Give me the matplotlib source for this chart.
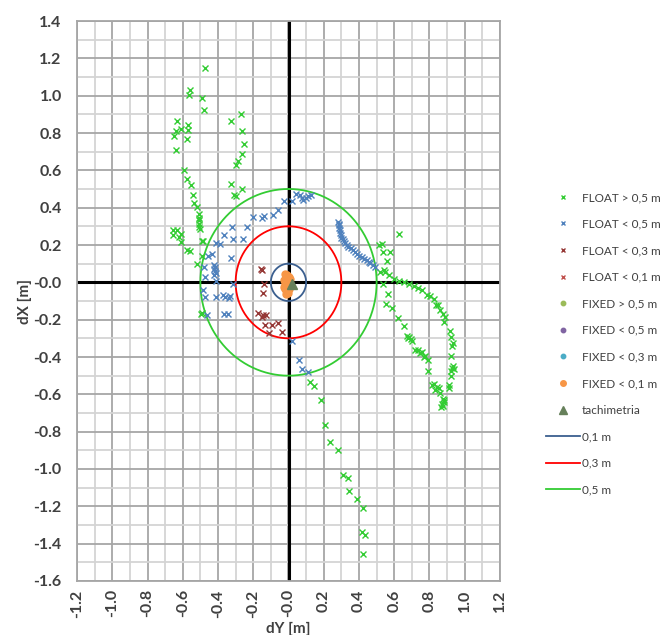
import numpy as np
import matplotlib
matplotlib.use("Agg")
import matplotlib.pyplot as plt

plt.rcParams['font.family'] = ['Lato', 'DejaVu Sans']

# FLOAT > 0,5 m  (dY, dX)
float05p_y = [-0.472, -0.559, -0.565, -0.493, -0.478, -0.271, -0.326, -0.631, -0.568, -0.640,
              -0.612, -0.571, -0.264, -0.648, -0.578, -0.251, -0.639, -0.264, -0.287, -0.296,
              -0.593, -0.574, -0.553, -0.326, -0.264, -0.309, -0.296, -0.540, -0.535, -0.521,
              -0.506, -0.507, -0.508, -0.505, -0.507, -0.500, -0.654, -0.635, -0.654, -0.611,
              -0.620, -0.611, -0.489, -0.484, -0.578, -0.559, -0.489, -0.521, -0.489, -0.496,
              0.122, 0.143, 0.183, 0.209, 0.235, 0.283, 0.307, 0.338, 0.344, 0.391,
              0.425, 0.417, 0.432, 0.425,
              0.629, 0.515, 0.528, 0.534, 0.576, 0.557, 0.541, 0.519, 0.550, 0.570,
              0.600, 0.627, 0.655, 0.683, 0.712, 0.735, 0.760, 0.788, 0.800, 0.825,
              0.850, 0.836, 0.858, 0.877, 0.886, 0.880, 0.914, 0.923, 0.933, 0.926,
              0.923, 0.935, 0.928, 0.922, 0.940, 0.923, 0.910, 0.912, 0.830, 0.856,
              0.860, 0.875, 0.882, 0.870, 0.878, 0.868, 0.884,
              0.756, 0.775, 0.794, 0.534, 0.562, 0.552, 0.590, 0.620, 0.657, 0.672,
              0.685, 0.695, 0.700, 0.678, 0.720, 0.735, 0.748, 0.768, 0.790, 0.812,
              0.826, 0.840]
float05p_x = [1.148, 1.029, 1.003, 0.989, 0.921, 0.902, 0.862, 0.864, 0.843, 0.809,
              0.823, 0.814, 0.809, 0.782, 0.768, 0.743, 0.711, 0.689, 0.652, 0.629,
              0.604, 0.552, 0.520, 0.527, 0.500, 0.470, 0.462, 0.470, 0.425, 0.403,
              0.366, 0.345, 0.333, 0.315, 0.297, 0.288, 0.279, 0.282, 0.255, 0.261,
              0.243, 0.216, 0.223, 0.222, 0.171, 0.168, 0.139, 0.100, -0.162, -0.167,
              -0.536, -0.555, -0.632, -0.766, -0.855, -0.898, -1.030, -1.050, -1.120, -1.163,
              -1.209, -1.336, -1.355, -1.457,
              0.261, 0.198, 0.205, 0.163, 0.163, 0.114, 0.064, 0.055, 0.055, 0.037,
              0.020, 0.005, 0.002, -0.007, -0.021, -0.030, -0.040, -0.066, -0.075, -0.090,
              -0.120, -0.123, -0.150, -0.168, -0.187, -0.214, -0.262, -0.293, -0.325, -0.343,
              -0.397, -0.446, -0.460, -0.475, -0.465, -0.500, -0.550, -0.565, -0.576, -0.566,
              -0.595, -0.625, -0.640, -0.650, -0.660, -0.670, -0.632,
              -0.374, -0.397, -0.418, -0.007, -0.061, -0.114, -0.136, -0.190, -0.234, -0.288,
              -0.295, -0.305, -0.315, -0.300, -0.360, -0.362, -0.380, -0.400, -0.475, -0.550,
              -0.545, -0.560]

# FLOAT < 0,5 m
float05_y = [-0.024, 0.022, -0.058, -0.090, -0.137, -0.151, -0.200, -0.237, -0.319, -0.364,
             -0.315, -0.258, -0.411, -0.389, -0.434, -0.457, -0.325, -0.420, -0.415, -0.425,
             -0.418, -0.412, -0.423, -0.478, -0.472, -0.411, -0.484, -0.472, -0.411, -0.370,
             -0.360, -0.340, -0.330, -0.315, -0.460, -0.364, -0.343,
             0.065, 0.075, 0.084, 0.100, 0.110, 0.130, 0.045,
             0.283, 0.285, 0.287, 0.289, 0.292, 0.294, 0.296, 0.300, 0.308, 0.314,
             0.321, 0.330, 0.340, 0.352, 0.365, 0.376, 0.388, 0.402, 0.416, 0.430,
             0.444, 0.454, 0.463, 0.478, 0.492,
             0.018, 0.061, 0.074, 0.111]
float05_x = [0.438, 0.438, 0.386, 0.361, 0.354, 0.345, 0.350, 0.296, 0.296, 0.252,
             0.234, 0.234, 0.211, 0.204, 0.154, 0.139, 0.132, 0.091, 0.080, 0.070,
             0.060, 0.050, 0.040, 0.082, 0.029, 0.009, -0.043, -0.079, -0.079, -0.070,
             -0.080, -0.085, -0.075, -0.011, -0.175, -0.168, -0.168,
             0.468, 0.450, 0.440, 0.450, 0.460, 0.470, 0.475,
             0.323, 0.314, 0.305, 0.292, 0.279, 0.265, 0.252, 0.240, 0.230, 0.222,
             0.213, 0.200, 0.190, 0.182, 0.173, 0.162, 0.152, 0.143, 0.134, 0.127,
             0.120, 0.110, 0.102, 0.093, 0.084,
             -0.314, -0.414, -0.462, -0.480]

# FLOAT < 0,3 m
float03_y = [-0.156, -0.152, -0.137, -0.143, -0.175, -0.152, -0.143, -0.125, -0.131, -0.092,
             -0.060, -0.109, -0.036]
float03_x = [0.070, 0.064, -0.011, -0.055, -0.163, -0.186, -0.173, -0.173, -0.230, -0.230,
             -0.218, -0.270, -0.265]

# FLOAT < 0,1 m / FIXED > 0,5 / < 0,5 / < 0,3 m: no points
float01_y, float01_x = [], []
fixed05p_y, fixed05p_x = [], []
fixed05_y, fixed05_x = [], []
fixed03_y, fixed03_x = [], []

# FIXED < 0,1 m
fixed01_y = [-0.020, -0.010, 0.000, 0.008, -0.025, -0.015, -0.005, 0.005, -0.022, -0.012,
             -0.002, -0.018, -0.008, -0.028, 0.002, -0.015, -0.005]
fixed01_x = [0.045, 0.040, 0.030, 0.020, 0.015, 0.020, 0.010, 0.000, -0.010, -0.005,
             -0.020, -0.035, -0.045, -0.025, -0.035, -0.060, -0.055]

# tachimetria
tachy_y = [0.022]
tachy_x = [-0.007]

radii = [0.1, 0.3, 0.5]
radius_labels = ['0,1 m', '0,3 m', '0,5 m']
radius_colors = ['#3B5F8F', '#FF0000', '#33CC33']

fig = plt.figure(figsize=(6.66, 6.35), dpi=100)
ax = fig.add_axes([77 / 666, 1 - 581 / 635, 423 / 666, 560 / 635])

ax.set_xlim(-1.2, 1.2)
ax.set_ylim(-1.6, 1.4)
ax.set_xticks(np.arange(-1.2, 1.21, 0.2))
ax.set_yticks(np.arange(-1.6, 1.41, 0.2))
ax.set_xticks(np.arange(-1.1, 1.2, 0.2), minor=True)
ax.set_yticks(np.arange(-1.5, 1.4, 0.2), minor=True)
ax.set_xticklabels(['%.1f' % v for v in np.arange(-1.2, 1.21, 0.2)], rotation=90)
ax.set_yticklabels(['%.1f' % v for v in np.arange(-1.6, 1.41, 0.2)])
ax.grid(which='major', color='#A6A6A6', linewidth=1.3, zorder=0)
ax.grid(which='minor', color='#D4D4D4', linewidth=1.3, zorder=0)
ax.set_axisbelow(True)
ax.tick_params(which='both', length=0)
ax.tick_params(axis='y', pad=11, labelsize=11.5, labelcolor='#404040')
ax.tick_params(axis='x', pad=6, labelsize=11.5, labelcolor='#404040')
for lab in ax.get_xticklabels() + ax.get_yticklabels():
    lab.set_fontweight('bold')
for s in ax.spines.values():
    s.set_color('#A6A6A6')
    s.set_linewidth(1.3)

ax.axhline(0, color='black', linewidth=2.2, zorder=1)
ax.axvline(0, color='black', linewidth=2.2, zorder=1)

ax.set_xlabel('dY [m]', fontsize=11, fontweight='bold', color='#404040', labelpad=3)
ax.set_ylabel('dX [m]', fontsize=11, fontweight='bold', color='#404040', labelpad=1)

mk = dict(linestyle='none', markersize=4, markeredgewidth=1.0, zorder=3)
ax.plot(float05p_y, float05p_x, marker='x', color='#33CC33', label='FLOAT > 0,5 m', **mk)
ax.plot(float05_y, float05_x, marker='x', color='#4F81BD', label='FLOAT < 0,5 m', **mk)
ax.plot(float03_y, float03_x, marker='x', color='#953735', label='FLOAT < 0,3 m', **mk)
ax.plot(float01_y, float01_x, marker='x', color='#C0504D', label='FLOAT < 0,1 m', **mk)
mf = dict(linestyle='none', markersize=4, zorder=3)
ax.plot(fixed05p_y, fixed05p_x, marker='o', color='#9BBB59', label='FIXED > 0,5 m', **mf)
ax.plot(fixed05_y, fixed05_x, marker='o', color='#8064A2', label='FIXED < 0,5 m', **mf)
ax.plot(fixed03_y, fixed03_x, marker='o', color='#4BACC6', label='FIXED < 0,3 m', **mf)
ax.plot(fixed01_y, fixed01_x, marker='o', color='#F79646', markersize=5, linestyle='none',
        label='FIXED < 0,1 m', zorder=3)
ax.plot(tachy_y, tachy_x, marker='^', color='#66805A', markersize=7, linestyle='none',
        label='tachimetria', zorder=4)

t = np.linspace(0, 2 * np.pi, 361)
for r, lab, c in zip(radii, radius_labels, radius_colors):
    ax.plot(r * np.sin(t), r * np.cos(t), color=c, linewidth=1.3, label=lab, zorder=2)

leg = fig.legend(loc='upper left', bbox_to_anchor=(546 / 666, 1 - 192 / 635), frameon=False,
                 fontsize=8.5, labelspacing=1.32, handlelength=2.9, handletextpad=0.15,
                 borderpad=0, borderaxespad=0, markerscale=0.8)
for txt in leg.get_texts():
    txt.set_color('#404040')

fig.savefig('out.png', dpi=100)
